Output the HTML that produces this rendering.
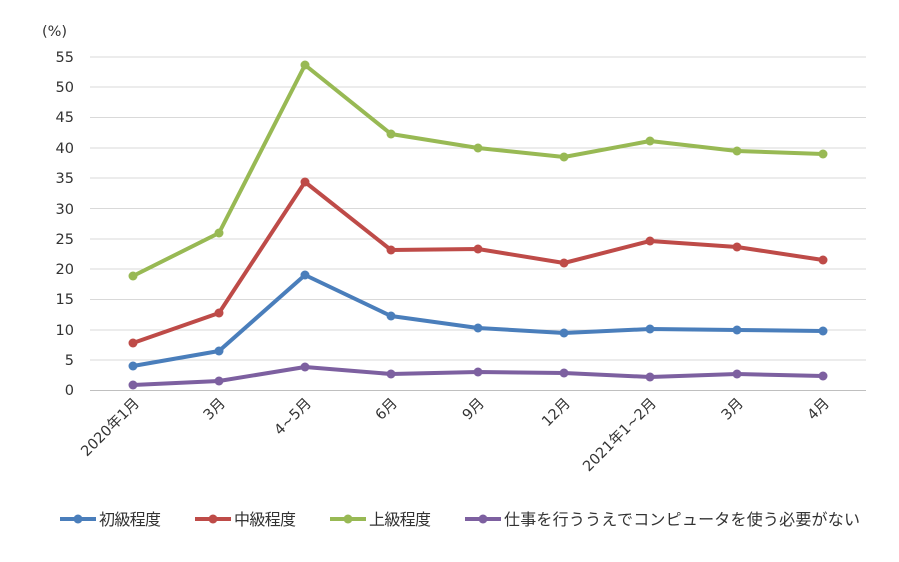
<!DOCTYPE html>
<html><head><meta charset="utf-8"><style>
body{margin:0;background:#fff;}
svg text{font-family:"DejaVu Sans","Noto Sans CJK JP",sans-serif;fill:#333;}
</style></head><body>
<svg width="899" height="557" xmlns="http://www.w3.org/2000/svg">
<g stroke="#d9d9d9" stroke-width="1">
<line x1="90" x2="866" y1="57" y2="57"/><line x1="90" x2="866" y1="87" y2="87"/><line x1="90" x2="866" y1="117.5" y2="117.5"/><line x1="90" x2="866" y1="148" y2="148"/><line x1="90" x2="866" y1="178" y2="178"/><line x1="90" x2="866" y1="208.5" y2="208.5"/><line x1="90" x2="866" y1="239" y2="239"/><line x1="90" x2="866" y1="269" y2="269"/><line x1="90" x2="866" y1="299.5" y2="299.5"/><line x1="90" x2="866" y1="330" y2="330"/><line x1="90" x2="866" y1="360" y2="360"/>
</g>
<line x1="90" x2="866" y1="390.5" y2="390.5" stroke="#bfbfbf"/>
<g font-size="14.5" text-anchor="end">
<text x="74" y="62">55</text><text x="74" y="92">50</text><text x="74" y="122">45</text><text x="74" y="153">40</text><text x="74" y="183">35</text><text x="74" y="214">30</text><text x="74" y="244">25</text><text x="74" y="274">20</text><text x="74" y="304">15</text><text x="74" y="335">10</text><text x="74" y="365">5</text><text x="74" y="395">0</text>
</g>
<text x="42" y="36" font-size="14.5">(%)</text>
<g font-size="14.5" text-anchor="end">
<text transform="translate(140,404) rotate(-45)">2020年1月</text>
<text transform="translate(226,404) rotate(-45)">3月</text>
<text transform="translate(312,404) rotate(-45)">4~5月</text>
<text transform="translate(398,404) rotate(-45)">6月</text>
<text transform="translate(485,404) rotate(-45)">9月</text>
<text transform="translate(571,404) rotate(-45)">12月</text>
<text transform="translate(657,404) rotate(-45)">2021年1~2月</text>
<text transform="translate(744,404) rotate(-45)">3月</text>
<text transform="translate(830,404) rotate(-45)">4月</text>
</g>
<g fill="none" stroke-width="4" stroke-linejoin="round">
<polyline stroke="#98b954" points="133,276 219,233 305,65 391,134 478,148 564,157 650,141 737,151 823,154"/>
<polyline stroke="#be4b48" points="133,343 219,313 305,182 391,250 478,249 564,263 650,241 737,247 823,260"/>
<polyline stroke="#4a7ebb" points="133,366 219,351 305,275 391,316 478,328 564,333 650,329 737,330 823,331"/>
<polyline stroke="#7d60a0" points="133,385 219,381 305,367 391,374 478,372 564,373 650,377 737,374 823,376"/>
</g>
<g fill="#98b954"><circle cx="133" cy="276" r="4.5"/><circle cx="219" cy="233" r="4.5"/><circle cx="305" cy="65" r="4.5"/><circle cx="391" cy="134" r="4.5"/><circle cx="478" cy="148" r="4.5"/><circle cx="564" cy="157" r="4.5"/><circle cx="650" cy="141" r="4.5"/><circle cx="737" cy="151" r="4.5"/><circle cx="823" cy="154" r="4.5"/></g>
<g fill="#be4b48"><circle cx="133" cy="343" r="4.5"/><circle cx="219" cy="313" r="4.5"/><circle cx="305" cy="182" r="4.5"/><circle cx="391" cy="250" r="4.5"/><circle cx="478" cy="249" r="4.5"/><circle cx="564" cy="263" r="4.5"/><circle cx="650" cy="241" r="4.5"/><circle cx="737" cy="247" r="4.5"/><circle cx="823" cy="260" r="4.5"/></g>
<g fill="#4a7ebb"><circle cx="133" cy="366" r="4.5"/><circle cx="219" cy="351" r="4.5"/><circle cx="305" cy="275" r="4.5"/><circle cx="391" cy="316" r="4.5"/><circle cx="478" cy="328" r="4.5"/><circle cx="564" cy="333" r="4.5"/><circle cx="650" cy="329" r="4.5"/><circle cx="737" cy="330" r="4.5"/><circle cx="823" cy="331" r="4.5"/></g>
<g fill="#7d60a0"><circle cx="133" cy="385" r="4.5"/><circle cx="219" cy="381" r="4.5"/><circle cx="305" cy="367" r="4.5"/><circle cx="391" cy="374" r="4.5"/><circle cx="478" cy="372" r="4.5"/><circle cx="564" cy="373" r="4.5"/><circle cx="650" cy="377" r="4.5"/><circle cx="737" cy="374" r="4.5"/><circle cx="823" cy="376" r="4.5"/></g>
<g stroke-width="4">
<line x1="60" x2="96" y1="519" y2="519" stroke="#4a7ebb"/><circle cx="78" cy="519" r="4.5" fill="#4a7ebb"/>
<line x1="195" x2="231" y1="519" y2="519" stroke="#be4b48"/><circle cx="213" cy="519" r="4.5" fill="#be4b48"/>
<line x1="330" x2="366" y1="519" y2="519" stroke="#98b954"/><circle cx="348" cy="519" r="4.5" fill="#98b954"/>
<line x1="465" x2="501" y1="519" y2="519" stroke="#7d60a0"/><circle cx="483" cy="519" r="4.5" fill="#7d60a0"/>
</g>
<g font-size="16">
<text x="99" y="525" textLength="62">初級程度</text><text x="234" y="525" textLength="62">中級程度</text><text x="369" y="525" textLength="62">上級程度</text><text x="504" y="525" textLength="356">仕事を行ううえでコンピュータを使う必要がない</text>
</g>
</svg>
</body></html>
